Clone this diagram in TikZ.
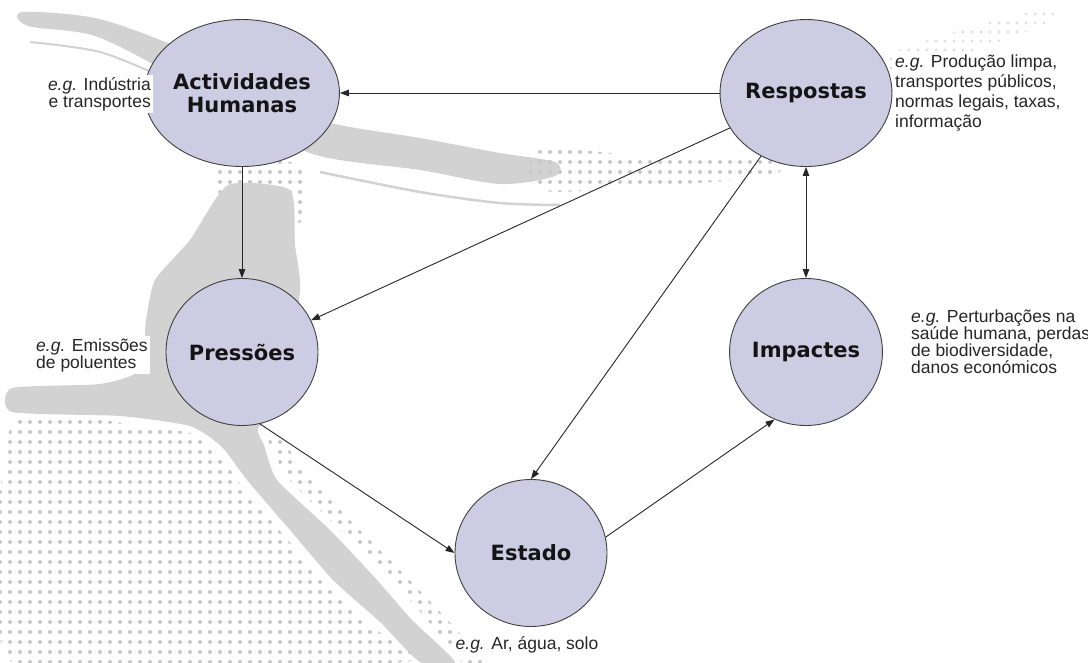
\documentclass[tikz,border=0pt]{standalone}
\usepackage{fontspec}
\setmainfont{Liberation Sans}
\newfontfamily\labelfont{DejaVu Sans}
\usetikzlibrary{arrows.meta,shapes.geometric,patterns.meta}
\definecolor{bubble}{RGB}{204,205,227}
\definecolor{mapgray}{RGB}{210,210,210}
\definecolor{dotgray}{RGB}{200,200,200}
\definecolor{faintdot}{RGB}{224,224,224}
\begin{document}
\begin{tikzpicture}[x=1pt,y=-1pt,
  stage/.style={ellipse, draw=black!75, line width=0.9pt, fill=bubble,
    minimum width=152pt, minimum height=147pt, inner sep=0pt, align=center,
    font=\labelfont\bfseries\fontsize{21}{23}\selectfont, text=black!92},
  note/.style={fill=white, inner sep=2pt,
    font=\fontsize{17.5}{17}\selectfont, text=black!85},
  flow/.style={draw=black!85, line width=0.9pt,
    -{Triangle[length=9pt,width=6.5pt]}},
  bothflow/.style={draw=black!85, line width=0.9pt,
    {Triangle[length=9pt,width=6.5pt]}-{Triangle[length=9pt,width=6.5pt]}},
  band/.style={fill=mapgray},
  halftone/.style={pattern={Dots[distance=10pt,radius=2pt]}, pattern color=dotgray},
]
% page
\fill[white] (0,0) rectangle (1088,662);
\useasboundingbox (0,0) rectangle (1088,662);

% ---- background map ----
% upper river band
\fill[band] plot[smooth cycle, tension=0.5] coordinates {
  (22,12) (95,18) (170,44) (242,80) (320,120) (420,138) (500,153) (555,162)
  (555,176) (500,184) (420,170) (320,156) (242,122) (170,74) (95,36) (28,26)};
\draw[mapgray, line width=2.5pt] plot[smooth] coordinates {(320,172) (420,192) (500,203) (560,205)};
\draw[mapgray, line width=2pt] plot[smooth] coordinates {(30,42) (100,52) (165,78)};
\fill[halftone] plot[smooth cycle, tension=0.5] coordinates {
  (540,150) (650,156) (770,158) (770,176) (650,186) (540,190)};
\fill[pattern={Dots[distance=9pt,radius=1.6pt]}, pattern color=faintdot]
  plot[smooth cycle, tension=0.5] coordinates {(870,62) (960,30) (1045,10) (1045,24) (960,55) (880,78)};

% descending band towards the lower left
\fill[halftone] plot[smooth cycle, tension=0.5] coordinates {
  (215,165) (300,165) (305,215) (280,230) (230,225)};
\fill[band] plot[smooth cycle, tension=0.35] coordinates {
  (228,185) (290,190) (295,245) (300,290) (285,400) (258,428) (264,445)
  (277,480) (330,530) (377,580) (412,620) (455,662) (420,662) (380,622) (333,580)
  (290,530) (247,480) (222,447) (190,426) (120,416) (12,412) (12,388) (100,384)
  (140,370) (146,320) (155,280) (190,240)};
\fill[halftone] plot[smooth cycle, tension=0.3] coordinates {
  (12,422) (130,424) (193,434) (222,458) (243,488) (286,538) (328,588) (373,628)
  (405,662) (12,662)};
\fill[halftone] plot[smooth cycle, tension=0.3] coordinates {
  (268,440) (288,478) (338,528) (388,576) (424,616) (462,662) (485,662)
  (440,612) (396,566) (346,516) (302,468) (280,436)};

% ---- stages ----
\node[stage] (act) at (242,93) {Actividades\\Humanas};
\node[stage] (resp) at (806,93) {Respostas};
\node[stage] (pres) at (242,352) {Pressões};
\node[stage] (imp) at (806,352) {Impactes};
\node[stage] (est) at (531,553) {Estado};

% ---- examples ----
\node[note, anchor=east, align=right] (nact) at (153,94)
  {\textit{e.g.} Indústria\\e transportes};
\node[note, anchor=west, align=left] (npres) at (34,355)
  {\textit{e.g.} Emissões\\de poluentes};
\node[note, anchor=west, align=left, font=\fontsize{17.5}{20}\selectfont] (nresp) at (893,93)
  {\textit{e.g.} Produção limpa,\\transportes públicos,\\normas legais, taxas,\\informação};
\node[note, anchor=west, align=left] (nimp) at (909,342)
  {\textit{e.g.} Perturbações na\\saúde humana, perdas\\de biodiversidade,\\danos económicos};
\node[note] (nest) at (527,645) {\textit{e.g.} Ar, água, solo};

% ---- connections ----
\draw[flow] (resp) -- (act);
\draw[flow] (act) -- (pres);
\draw[flow] (resp) -- (pres);
\draw[flow] (resp) -- (est.north);
\draw[flow] (pres.-76) -- (est.west);
\draw[flow] (est.12) -- (imp.-115);
\draw[bothflow] (resp) -- (imp);
\end{tikzpicture}
\end{document}
